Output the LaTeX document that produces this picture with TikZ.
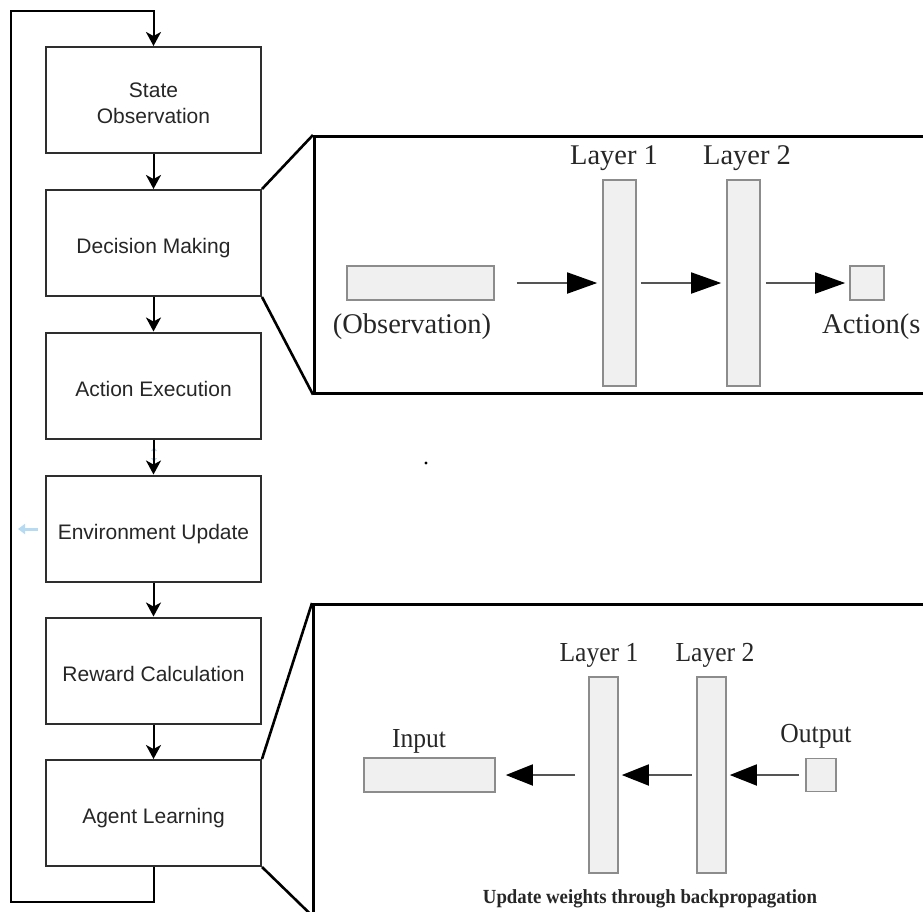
\documentclass[tikz,border=0pt]{standalone}
\usepackage{fontspec}
\setmainfont{Liberation Serif}
\newfontfamily\flowfont{Liberation Sans}
\usetikzlibrary{arrows.meta}

\definecolor{boxline}{HTML}{2E2E2E}
\definecolor{layerfill}{HTML}{F0F0F0}
\definecolor{layerline}{HTML}{8C8C8C}
\definecolor{nnline}{HTML}{555555}
\definecolor{ghostblue}{HTML}{B5DAF2}
\definecolor{nntext}{HTML}{262626}

\begin{document}
\begin{tikzpicture}[x=1pt, y=-1pt,
  stage/.style={draw=boxline, line width=2pt, minimum width=215pt, minimum height=106pt,
    inner sep=0pt, font=\flowfont\fontsize{21}{26}\selectfont, text=black!85,
    align=center, text height=21pt, text depth=0pt},
  flow/.style={draw=black, line width=2pt, line join=miter,
    -{Stealth[length=14pt, width=15pt, inset=4pt]}},
  zoomframe/.style={draw=black, line width=2.6pt, inner sep=0pt},
  zoomedge/.style={draw=black, line width=2.6pt},
  layer/.style={draw=layerline, fill=layerfill, line width=1.6pt, inner sep=0pt},
  fwdarrow/.style={draw=nnline, line width=1.8pt,
    -{Triangle[length=30pt, width=21pt, color=black]}},
  backarrow/.style={draw=nnline, line width=1.8pt,
    -{Triangle[length=27pt, width=21pt, color=black]}},
  fwdlabel/.style={inner sep=0pt, text=nntext, font=\fontsize{28.5}{30}\selectfont},
  backlabel/.style={inner sep=0pt, text=nntext, xscale=0.93, font=\fontsize{27.5}{30}\selectfont},
]
\useasboundingbox (0,0) rectangle (923,911);
\clip (0,0) rectangle (923,911);

% ---------------- agent loop ----------------
\node[stage, text height=47pt] (state) at (153.5,100) {State\\Observation};
\node[stage] (decide) at (153.5,243)   {Decision Making};
\node[stage] (act)    at (153.5,385.5) {Action Execution};
\node[stage] (env)    at (153.5,528.5) {Environment Update};
\node[stage] (reward) at (153.5,670.5) {Reward Calculation};
\node[stage] (learn)  at (153.5,813)   {Agent Learning};

\coordinate (loopBL) at (10.7,902);
\coordinate (loopTL) at (10.7,10.7);

% faint marks left on the canvas
\draw[ghostblue, line width=1.5pt, {Triangle[length=4pt,width=6pt]}-{Triangle[length=4pt,width=6pt]}]
  (154,447) -- (154,462);
\draw[ghostblue, line width=3pt, -{Triangle[length=7pt,width=10pt]}] (38,529) -- (18,529);
\fill[black] (426,463) circle (1.6pt);

\draw[flow] (state) -- (decide);
\draw[flow] (decide) -- (act);
\draw[flow] (act) -- (env);
\draw[flow] (env) -- (reward);
\draw[flow] (reward) -- (learn);
\draw[flow] (learn.south) |- (loopBL) |- (state.north |- loopTL) -- (state.north);

% ---------------- forward pass (decision making) ----------------
\node[zoomframe, minimum width=650pt, minimum height=257pt, anchor=north west] (zoomA) at (313,135) {};
\draw[zoomedge] (decide.north east) -- (zoomA.north west);
\draw[zoomedge] (decide.south east) -- (zoomA.south west);

\node[layer, minimum width=147pt, minimum height=34pt]  (obsin) at (420.5,283) {};
\node[layer, minimum width=33pt,  minimum height=206pt] (fl1)   at (619.5,283) {};
\node[layer, minimum width=33pt,  minimum height=206pt] (fl2)   at (743.5,283) {};
\node[layer, minimum width=34pt,  minimum height=34pt]  (actout) at (867,283) {};

\node[fwdlabel, anchor=base] (fl1lab) at (614,164) {Layer 1};
\node[fwdlabel, anchor=base] (fl2lab) at (747,164) {Layer 2};
\node[fwdlabel, anchor=base] (obslab) at (412,333) {(Observation)};
\node[fwdlabel, anchor=base west] (actlab) at (822,333) {Action(s};

\draw[fwdarrow, shorten <=22pt, shorten >=5pt] (obsin.east) -- (fl1.west);
\draw[fwdarrow, shorten <=4pt,  shorten >=5pt] (fl1.east) -- (fl2.west);
\draw[fwdarrow, shorten <=5pt,  shorten >=4pt] (fl2.east) -- (actout.west);

% ---------------- backward pass (agent learning) ----------------
\node[zoomframe, minimum width=650pt, minimum height=310pt, anchor=north west] (zoomB) at (312,603) {};
\draw[zoomedge] (learn.north east) -- (zoomB.north west);
\draw[zoomedge] (learn.south east) -- (zoomB.south west);

\node[layer, minimum width=131pt, minimum height=34pt]  (inb)  at (429.5,775) {};
\node[layer, minimum width=29pt,  minimum height=196pt] (bl1)  at (603.5,775) {};
\node[layer, minimum width=29pt,  minimum height=196pt] (bl2)  at (711.5,775) {};
\node[layer, minimum width=30pt,  minimum height=33pt]  (outb) at (821,775) {};

\node[backlabel, anchor=base] (bl1lab) at (599,661) {Layer 1};
\node[backlabel, anchor=base] (bl2lab) at (715,661) {Layer 2};
\node[backlabel, anchor=base] (inlab)  at (419,747) {Input};
\node[backlabel, anchor=base] (outlab) at (816,742) {Output};
\node[inner sep=0pt, anchor=base, text=nntext, xscale=0.94,
  font=\bfseries\fontsize{20}{22}\selectfont] (bplab) at (650,903)
  {Update weights through backpropagation};

\draw[backarrow, shorten <=6pt,   shorten >=3pt]  (outb.west) -- (bl2.east);
\draw[backarrow, shorten <=4.5pt, shorten >=3pt]  (bl2.west) -- (bl1.east);
\draw[backarrow, shorten <=13pt,  shorten >=10pt] (bl1.west) -- (inb.east);
\end{tikzpicture}
\end{document}
